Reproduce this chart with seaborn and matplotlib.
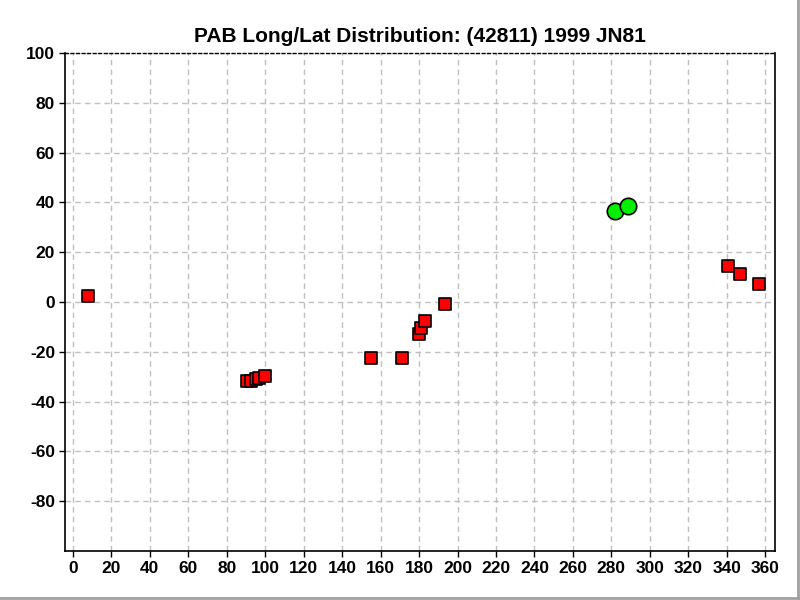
import matplotlib
matplotlib.use("Agg")
import matplotlib.pyplot as plt
import seaborn as sns
import pandas as pd

# ── Data ───────────────────────────────────────────────────────────────────
square_lon = [7.8, 90.5, 92.5, 95.0, 97.0, 100.0, 155.2, 171.3,
              180.0, 181.2, 183.3, 193.7, 340.4, 346.7, 356.6]
square_lat = [2.4, -31.8, -31.6, -31.0, -30.4, -29.7, -22.6, -22.6,
              -12.9, -10.6, -7.8, -0.9, 14.5, 11.2, 7.2]
circle_lon = [282.1, 288.8]
circle_lat = [36.5, 38.4]

x_ticks = list(range(0, 361, 20))
y_ticks = list(range(-80, 101, 20))

TITLE = "PAB Long/Lat Distribution: (42811) 1999 JN81"

sns.set_theme(style="white")
plt.rcParams["font.family"] = ["Liberation Sans Narrow", "Liberation Sans", "DejaVu Sans"]
plt.rcParams["text.color"] = "black"

squares = pd.DataFrame({"lon": square_lon, "lat": square_lat})
circles = pd.DataFrame({"lon": circle_lon, "lat": circle_lat})

fig = plt.figure(figsize=(8, 6), dpi=100)
ax = fig.add_axes([0.081, 0.0817, 0.888, 0.830])

sns.scatterplot(data=squares, x="lon", y="lat", marker="s", s=70,
                color="#ff0000", edgecolor="black", linewidth=1.2, ax=ax, zorder=3)
sns.scatterplot(data=circles, x="lon", y="lat", marker="o", s=140,
                color="#00ee00", edgecolor="black", linewidth=1.2, ax=ax, zorder=3)

ax.set_xlim(-4.2, 365.2)
ax.set_ylim(-100, 100)
ax.set_xticks(x_ticks)
ax.set_yticks(y_ticks)
ax.set_xticklabels([str(v) for v in x_ticks], fontsize=12.5, fontweight="bold")
ax.set_yticklabels([str(v) for v in y_ticks], fontsize=12.5, fontweight="bold")
ax.set_xlabel("")
ax.set_ylabel("")
ax.tick_params(axis="both", direction="out", length=4, width=1, colors="black",
               labelcolor="black", bottom=True, left=True, pad=3)

ax.grid(True, color="#c0c0c0", linestyle=(0, (4, 3)), linewidth=1)
for side in ["left", "bottom", "right"]:
    ax.spines[side].set_color("black")
    ax.spines[side].set_linewidth(1.2)
ax.spines["top"].set_color("black")
ax.spines["top"].set_linewidth(1)
ax.spines["top"].set_linestyle((0, (2, 2)))

ax.set_title(TITLE, fontsize=15, fontweight="bold", color="black", pad=8)

# grey window-style border on right/bottom
fig.add_artist(plt.Line2D([0, 1], [0.003, 0.003], color="#a0a0a0", lw=2,
                          transform=fig.transFigure))
fig.add_artist(plt.Line2D([0.997, 0.997], [0, 1], color="#a0a0a0", lw=2,
                          transform=fig.transFigure))

fig.savefig("out.png", dpi=100)
